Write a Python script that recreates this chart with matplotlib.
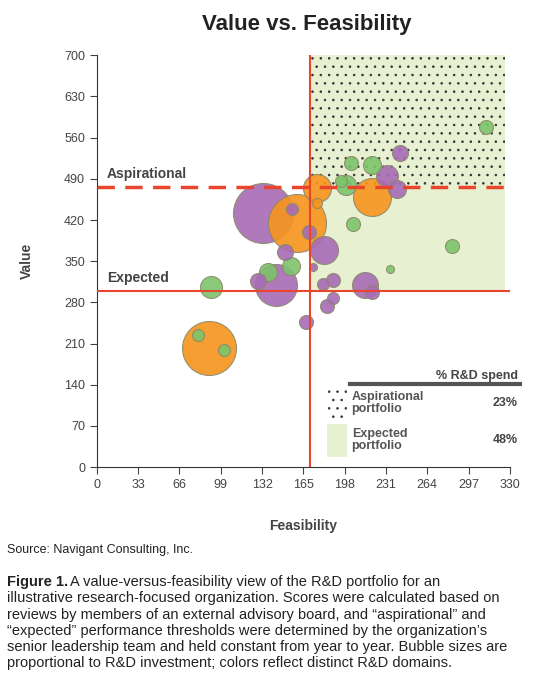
import matplotlib.pyplot as plt
from matplotlib.patches import Rectangle

plt.rcParams['font.family'] = ['Liberation Sans Narrow', 'Liberation Sans', 'DejaVu Sans']
plt.rcParams['hatch.linewidth'] = 0.6

# bubble data: feasibility, value, relative size (radius), domain
feas = [132.9, 160, 155.8, 169.4, 176, 176, 181.6, 150.5, 155, 137, 142.8, 129, 91.6, 89.5, 81, 102,
        167.5, 173, 189, 181, 189, 184, 214, 220, 234, 283.7, 205, 219.5, 199.5, 203.5, 219.5, 242,
        232, 240, 311, 195.5]
value = [432, 415, 438, 399, 475, 449, 369, 365, 341, 331, 310, 316, 306, 202, 225, 199,
         247, 340, 318, 311, 287, 274, 309, 298, 337, 375, 413, 459, 480, 517, 514, 534,
         494, 473, 578, 487]
radius = [30, 29, 6, 7, 14, 5, 14, 8, 9, 9, 21, 8, 11, 27, 6, 6,
          7, 4, 7, 6, 6, 7, 13, 7, 4, 7, 7, 19, 10, 7, 9, 8,
          11, 9, 7, 6]
domain = ['p', 'o', 'p', 'p', 'o', 'o', 'p', 'p', 'g', 'g', 'p', 'p', 'g', 'o', 'g', 'g',
          'p', 'p', 'p', 'p', 'p', 'p', 'p', 'p', 'g', 'g', 'g', 'o', 'g', 'g', 'g', 'p',
          'p', 'p', 'g', 'g']
colors = {'p': '#a66bb5', 'o': '#f7941d', 'g': '#7cc46a'}

expected_value = 300
aspirational_value = 476
feas_threshold = 170
xticks = list(range(0, 331, 33))
yticks = list(range(0, 701, 70))

fig = plt.figure(figsize=(5.47, 6.91), dpi=100)
ax = fig.add_axes([0.177, 0.324, 0.755, 0.596])
ax.set_xlim(0, 330)
ax.set_ylim(0, 700)

# regions
ax.add_patch(Rectangle((feas_threshold, expected_value), 326 - feas_threshold, 700 - expected_value,
                       facecolor='#e8f0d2', edgecolor='none', zorder=0))
ax.add_patch(Rectangle((feas_threshold, aspirational_value), 326 - feas_threshold, 700 - aspirational_value,
                       facecolor='none', edgecolor='#333333', hatch='..', linewidth=0, zorder=0))

# bubbles (largest first)
order = sorted(range(len(feas)), key=lambda i: -radius[i])
for i in order:
    ax.scatter(feas[i], value[i], s=(2 * radius[i] * 0.72) ** 2, color=colors[domain[i]],
               alpha=0.9, edgecolor='#8a8a6a', linewidth=0.8, zorder=2)

ax.axvline(feas_threshold, color='#e8452c', lw=1.5, zorder=3)
ax.axhline(expected_value, color='#e8452c', lw=1.5, zorder=3)
ax.plot([0, 326], [aspirational_value, aspirational_value], color='#e8452c', lw=2.5,
        dashes=(5, 3), zorder=3)
ax.text(8, 492, 'Aspirational', fontsize=10, fontweight='bold', color='#444444')
ax.text(8, 315, 'Expected', fontsize=10, fontweight='bold', color='#444444')

ax.set_xticks(xticks)
ax.set_yticks(yticks)
ax.tick_params(labelsize=9, colors='#444444', direction='out', length=5)
for s in ['top', 'right']:
    ax.spines[s].set_visible(False)
ax.spines['left'].set_color('#333333')
ax.spines['bottom'].set_color('#333333')
ax.set_xlabel('Feasibility', fontsize=10, fontweight='bold', color='#444444', labelpad=20)
ax.set_ylabel('Value', fontsize=10, fontweight='bold', color='#444444', labelpad=22)

# legend
t = ax.transAxes
ax.text(1.02, 0.215, '% R&D spend', transform=t, ha='right', fontsize=9, fontweight='bold', color='#444444')
ax.plot([0.613, 1.024], [0.201, 0.201], transform=t, color='#555555', lw=3, clip_on=False)
ax.add_patch(Rectangle((0.557, 0.119), 0.048, 0.073, transform=t, facecolor='white', edgecolor='#333333',
                       hatch='..', linewidth=0, zorder=4))
ax.add_patch(Rectangle((0.557, 0.024), 0.048, 0.08, transform=t, facecolor='#e8f0d2', edgecolor='none', zorder=4))
ax.text(0.617, 0.155, 'Aspirational\nportfolio', transform=t, va='center', fontsize=9,
        fontweight='bold', color='#555555', linespacing=1.0)
ax.text(0.617, 0.066, 'Expected\nportfolio', transform=t, va='center', fontsize=9,
        fontweight='bold', color='#555555', linespacing=1.0)
ax.text(1.02, 0.155, '23%', transform=t, ha='right', va='center', fontsize=9, fontweight='bold', color='#444444')
ax.text(1.02, 0.066, '48%', transform=t, ha='right', va='center', fontsize=9, fontweight='bold', color='#444444')

fig.text(0.56, 0.965, 'Value vs. Feasibility', ha='center', va='center', fontsize=16, fontweight='bold', color='#222222')
fig.text(0.013, 0.204, 'Source: Navigant Consulting, Inc.', fontsize=9, color='#222222', va='center')
caption = ('illustrative research-focused organization. Scores were calculated based on\n'
           'reviews by members of an external advisory board, and \u201caspirational\u201d and\n'
           '\u201cexpected\u201d performance thresholds were determined by the organization\u2019s\n'
           'senior leadership team and held constant from year to year. Bubble sizes are\n'
           'proportional to R&D investment; colors reflect distinct R&D domains.')
fig.text(0.013, 0.168, 'Figure 1.', fontsize=10.5, fontweight='bold', color='#222222', va='top')
fig.text(0.128, 0.168, 'A value-versus-feasibility view of the R&D portfolio for an',
         fontsize=10.5, color='#222222', va='top')
fig.text(0.013, 0.144, caption, fontsize=10.5, color='#222222', va='top', linespacing=1.2)

fig.savefig('out.png', dpi=100)
